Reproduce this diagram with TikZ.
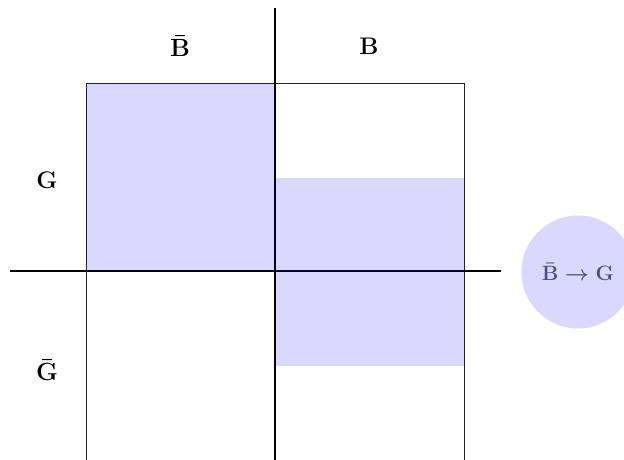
\documentclass[tikz,border=0pt]{standalone}
\usepackage{amsmath}
\definecolor{ctext}{RGB}{88,88,120}
\begin{document}
\begin{tikzpicture}[x=1pt,y=-1pt,
  axis/.style={draw=black,line width=1.5pt},
  frame/.style={draw=black!85,line width=0.9pt},
  shade/.style={fill=blue,fill opacity=0.15},
  lbl/.style={font=\fontsize{24}{29}\selectfont\bfseries\boldmath},
  clbl/.style={font=\fontsize{21}{25}\selectfont\bfseries\boldmath,text=ctext}]
\useasboundingbox (0,0) rectangle (624,460);
% frame
\draw[frame] (86,460) -- (86,83) -- (464,83) -- (464,460);
% axes
\draw[axis] (275,8) -- (275,460);
\draw[axis] (10,271) -- (501,271);
% labels
\node[lbl] (nb) at (180,46) {$\bar{\mathbf{B}}$};
\node[lbl] (b) at (369,46) {B};
\node[lbl] (g) at (47,180) {G};
\node[lbl] (ng) at (47,370) {$\bar{\mathbf{G}}$};
\node[clbl] (rule) at (578,272) {$\bar{\mathbf{B}}\rightarrow\mathbf{G}$};
% shaded regions
\fill[shade] (86,83) rectangle (275,271);
\fill[shade] (275,178) rectangle (464,366);
\fill[shade] (578,272) circle (56.5);
\end{tikzpicture}
\end{document}
